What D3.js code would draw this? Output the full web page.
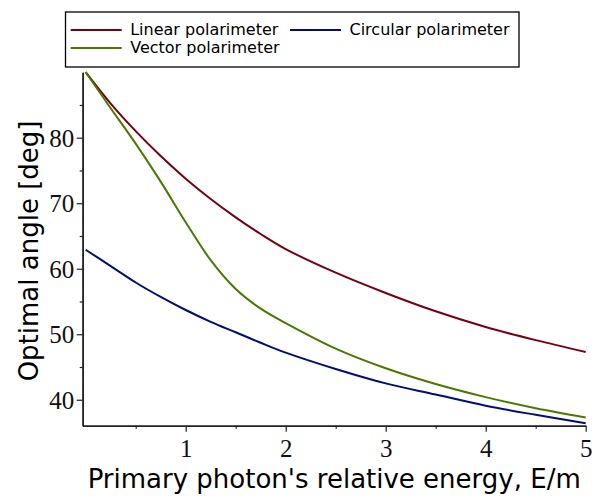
<!DOCTYPE html>
<html>
<head>
<meta charset="utf-8">
<script src="https://cdn.jsdelivr.net/npm/d3@7"></script>
<style>
  body { margin: 0; background: #fff; }
  svg { display: block; }
</style>
</head>
<body>
<div id="chart"></div>
<script>
"use strict";

// Energy E/m where the curves were read
const energy = [0, 0.25, 0.5, 0.75, 1, 1.25, 1.5, 1.75, 2, 2.5, 3, 3.5, 4, 4.5, 5];
// Optimal angle, degrees
const linearAngle   = [90, 85.2, 81.0, 77.2, 73.75, 70.65, 67.85, 65.3, 63.0, 59.4, 56.3, 53.5, 51.1, 49.1, 47.3];
const circularAngle = [62.9, 60.4, 57.9, 55.7, 53.7, 51.9, 50.3, 48.7, 47.2, 44.7, 42.5, 40.8, 39.1, 37.7, 36.4];
const vectorAngle   = [90, 84.5, 79.1, 73.3, 67.1, 61.3, 56.9, 53.9, 51.7, 47.8, 44.8, 42.4, 40.4, 38.7, 37.3];

const seriesNames = ["Linear polarimeter", "Circular polarimeter", "Vector polarimeter"];
const seriesColors = ["#78000E", "#000E78", "#4A7800"];

const xTickValues = [1, 2, 3, 4, 5];
const yTickValues = [40, 50, 60, 70, 80];

const width = 592, height = 496;

const svg = d3.select("#chart").append("svg")
  .attr("width", width)
  .attr("height", height);

const x = d3.scaleLinear().domain([-0.03, 5]).range([82.7, 585.7]);
const y = d3.scaleLinear().domain([36.04, 90]).range([425.7, 72.2]);

// Axes
const axisColor = "#222";
const xAxis = svg.append("g")
  .attr("transform", "translate(0," + y(36.04) + ")")
  .call(d3.axisBottom(x).tickValues(xTickValues).tickSize(6).tickSizeOuter(0).tickFormat(d3.format("d")));
const xMinor = svg.append("g")
  .attr("transform", "translate(0," + y(36.04) + ")")
  .call(d3.axisBottom(x).tickValues([0.5, 1.5, 2.5, 3.5, 4.5]).tickSize(3).tickSizeOuter(0).tickFormat(""));

const yAxis = svg.append("g")
  .attr("transform", "translate(" + x(-0.03) + ",0)")
  .call(d3.axisLeft(y).tickValues(yTickValues).tickSize(6).tickSizeOuter(0).tickFormat(d3.format("d")));
const yMinor = svg.append("g")
  .attr("transform", "translate(" + x(-0.03) + ",0)")
  .call(d3.axisLeft(y).tickValues([45, 55, 65, 75, 85]).tickSize(3).tickSizeOuter(0).tickFormat(""));

[xAxis, xMinor, yAxis, yMinor].forEach(function(a) {
  a.select(".domain").attr("stroke", axisColor).attr("stroke-width", 1.6);
  a.selectAll(".tick line").attr("stroke", axisColor).attr("stroke-width", 1.2);
});

xAxis.selectAll(".tick text")
  .attr("font-family", "Liberation Serif, Times New Roman, serif")
  .attr("font-size", "25px")
  .attr("fill", "#111")
  .attr("dy", null)
  .attr("y", 31);

yAxis.selectAll(".tick text")
  .attr("font-family", "Liberation Serif, Times New Roman, serif")
  .attr("font-size", "25px")
  .attr("fill", "#111")
  .attr("dy", "0.34em")
  .attr("x", -8.5);

// Curves
const line = d3.line()
  .x(function(d) { return x(d[0]); })
  .y(function(d) { return y(d[1]); })
  .curve(d3.curveCatmullRom.alpha(0.5));

const seriesValues = [linearAngle, circularAngle, vectorAngle];
const curves = svg.append("g");
seriesValues.forEach(function(vals, i) {
  curves.append("path")
    .datum(energy.map(function(e, j) { return [e, vals[j]]; }))
    .attr("d", line)
    .attr("fill", "none")
    .attr("stroke", seriesColors[i])
    .attr("stroke-width", 2);
});

// Axis titles
svg.append("text")
  .attr("x", (x(-0.03) + x(5)) / 2)
  .attr("y", 488)
  .attr("text-anchor", "middle")
  .attr("font-family", "DejaVu Sans, sans-serif")
  .attr("font-size", "26px")
  .attr("fill", "#000")
  .text("Primary photon's relative energy, E/m");

svg.append("text")
  .attr("transform", "translate(38," + ((y(36.04) + y(90)) / 2 + 2) + ") rotate(-90)")
  .attr("text-anchor", "middle")
  .attr("font-family", "DejaVu Sans, sans-serif")
  .attr("font-size", "26px")
  .attr("fill", "#000")
  .text("Optimal angle [deg]");

// Legend
const legend = svg.append("g");
legend.append("rect")
  .attr("x", 65.5)
  .attr("y", 12)
  .attr("width", 453.5)
  .attr("height", 55)
  .attr("fill", "#fff")
  .attr("stroke", "#000")
  .attr("stroke-width", 1.3);

const legendPos = [[70.7, 30], [290, 30], [70.7, 48]];
seriesNames.forEach(function(name, i) {
  const p = legendPos[i];
  legend.append("line")
    .attr("x1", p[0]).attr("x2", p[0] + 51)
    .attr("y1", p[1]).attr("y2", p[1])
    .attr("stroke", seriesColors[i])
    .attr("stroke-width", 2);
  legend.append("text")
    .attr("x", p[0] + 59.5)
    .attr("y", p[1] + 5)
    .attr("font-family", "DejaVu Sans, sans-serif")
    .attr("font-size", "16px")
    .attr("fill", "#000")
    .text(name);
});
</script>
</body>
</html>
